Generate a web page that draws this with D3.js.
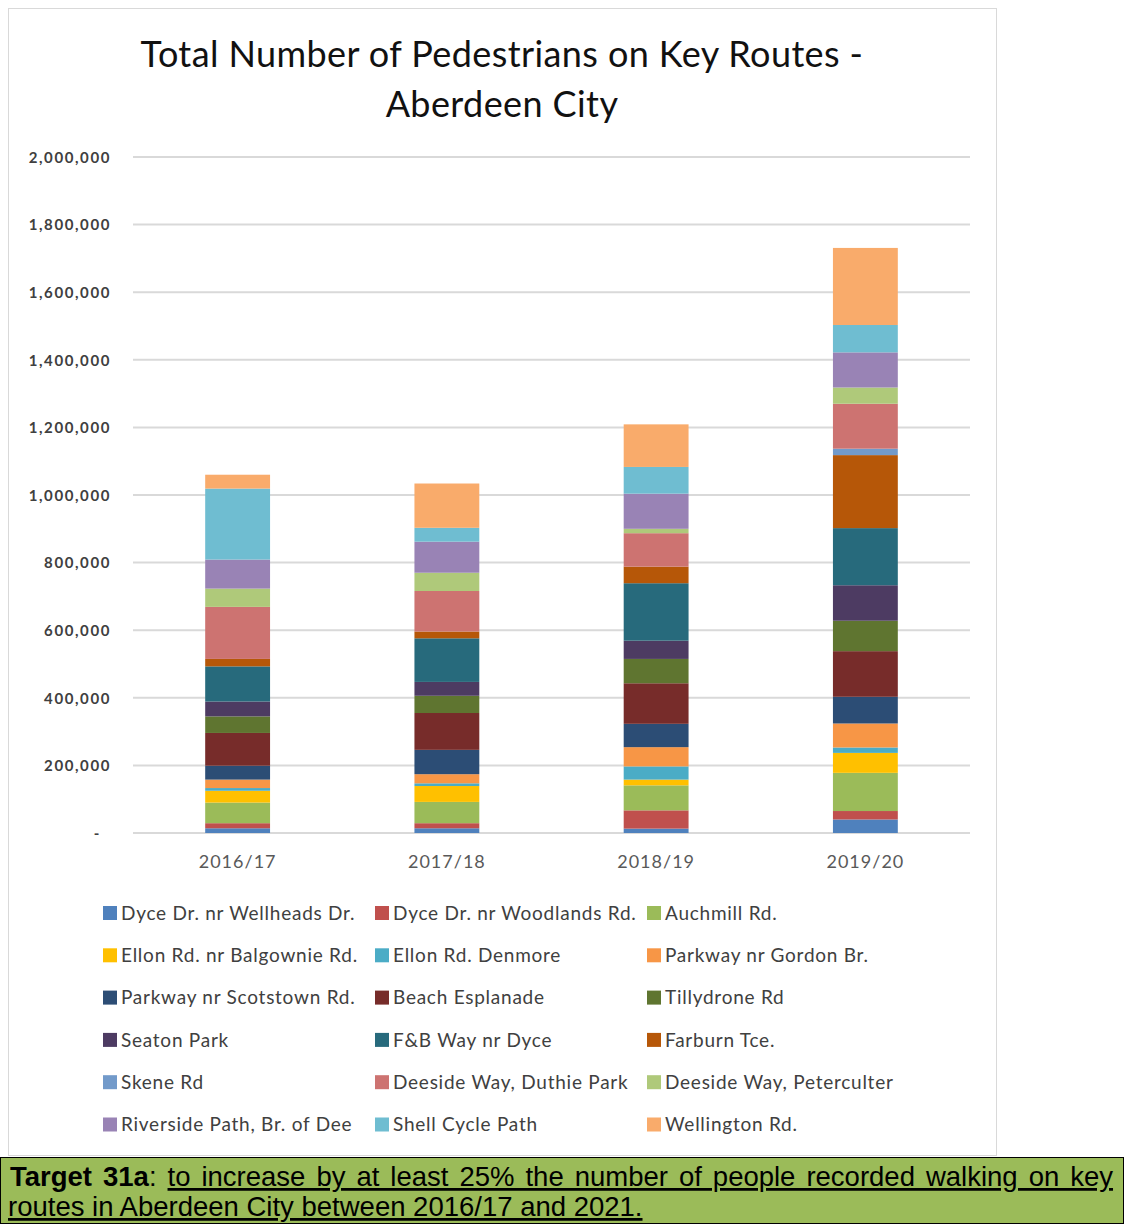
<!DOCTYPE html>
<html>
<head>
<meta charset="utf-8">
<script src="https://cdn.jsdelivr.net/npm/d3@7"></script>
<style>
  html, body { margin: 0; padding: 0; background: #ffffff; }
  svg { display: block; }
</style>
</head>
<body>
<svg id="chart" width="1124" height="1224"></svg>
<script>
// Survey years (x categories)
const years = ["2016/17", "2017/18", "2018/19", "2019/20"];

// Count sites, bottom of the stack first
const routes = [
  "Dyce Dr. nr Wellheads Dr.", "Dyce Dr. nr Woodlands Rd.", "Auchmill Rd.",
  "Ellon Rd. nr Balgownie Rd.", "Ellon Rd. Denmore", "Parkway nr Gordon Br.",
  "Parkway nr Scotstown Rd.", "Beach Esplanade", "Tillydrone Rd",
  "Seaton Park", "F&B Way nr Dyce", "Farburn Tce.",
  "Skene Rd", "Deeside Way, Duthie Park", "Deeside Way, Peterculter",
  "Riverside Path, Br. of Dee", "Shell Cycle Path", "Wellington Rd."
];

// Pedestrian counts per route, one value per year
const wellheads   = [14000, 14000, 13000, 40000];
const woodlands   = [15000, 15000, 54000, 25000];
const auchmill    = [61000, 63000, 74000, 113000];
const balgownie   = [35000, 47000, 17000, 59000];
const denmore     = [8000, 8000, 39000, 16000];
const gordonBr    = [25000, 27000, 57000, 71000];
const scotstown   = [41000, 72000, 69000, 79000];
const beach       = [97000, 109000, 120000, 135000];
const tillydrone  = [49000, 51000, 72000, 90000];
const seatonPark  = [44000, 41000, 54000, 105000];
const fbWay       = [104000, 129000, 170000, 169000];
const farburn     = [22000, 20000, 49000, 216000];
const skene       = [0, 0, 0, 19000];
const duthiePark  = [154000, 120000, 99000, 133000];
const peterculter = [54000, 54000, 13000, 48000];
const riverside   = [86000, 92000, 104000, 104000];
const shellCycle  = [210000, 41000, 79000, 81000];
const wellington  = [41000, 131000, 126000, 228000];

const seriesValues = [
  wellheads, woodlands, auchmill, balgownie, denmore, gordonBr,
  scotstown, beach, tillydrone, seatonPark, fbWay, farburn,
  skene, duthiePark, peterculter, riverside, shellCycle, wellington
];

const colours = [
  "#4F81BD", "#C0504D", "#9BBB59", "#FFC000", "#4BACC6", "#F79646",
  "#2C4D75", "#772C2A", "#5F7530", "#4D3B62", "#276A7C", "#B65708",
  "#729ACA", "#CD7371", "#AFC97A", "#9983B5", "#6FBDD1", "#F9AB6B"
];

const yTicks = [0, 200000, 400000, 600000, 800000, 1000000, 1200000, 1400000, 1600000, 1800000, 2000000];

const titleLines = ["Total Number of Pedestrians on Key Routes -", "Aberdeen City"];

// Build a row per year for d3.stack
const rows = years.map((yr, i) => {
  const r = { year: yr };
  routes.forEach((rt, k) => { r[rt] = seriesValues[k][i]; });
  return r;
});

const svg = d3.select("#chart");
const font = "Lato, 'Open Sans', sans-serif";

// Chart frame
svg.append("rect")
  .attr("x", 8.5).attr("y", 8.5)
  .attr("width", 988).attr("height", 1147)
  .attr("fill", "#ffffff").attr("stroke", "#d9d9d9").attr("stroke-width", 1);

// Title
svg.append("g").selectAll("text").data(titleLines).join("text")
  .attr("x", 502).attr("y", (d, i) => 67 + i * 50)
  .attr("text-anchor", "middle")
  .attr("font-family", font).attr("font-size", 36).attr("letter-spacing", 0.4)
  .attr("fill", "#111111")
  .text(d => d);

// Scales
const plot = { left: 133, right: 970, top: 157, bottom: 833 };
const x = d3.scaleBand().domain(years).range([plot.left, plot.right]).paddingInner(0.69).paddingOuter(0.345);
const y = d3.scaleLinear().domain([0, 2000000]).range([plot.bottom, plot.top]);

// Gridlines
svg.append("g").selectAll("line").data(yTicks).join("line")
  .attr("x1", plot.left).attr("x2", plot.right)
  .attr("y1", d => y(d)).attr("y2", d => y(d))
  .attr("stroke", "#d9d9d9").attr("stroke-width", 2);

// Y axis labels
const yAxis = d3.axisLeft(y).tickValues(yTicks).tickSize(0).tickPadding(0)
  .tickFormat(d => d === 0 ? "-" : d3.format(",")(d));
const gy = svg.append("g").attr("transform", `translate(111,0)`).call(yAxis);
gy.select(".domain").remove();
gy.selectAll("text")
  .attr("font-family", font).attr("font-size", 15).attr("font-weight", 700)
  .attr("letter-spacing", 1.6)
  .attr("fill", "#404040")
  .attr("dy", "0.35em")
  .attr("dx", d => d === 0 ? -10 : 0);

// X axis labels
const xAxis = d3.axisBottom(x).tickSize(0).tickPadding(0);
const gx = svg.append("g").attr("transform", `translate(0,${plot.bottom + 22})`).call(xAxis);
gx.select(".domain").remove();
gx.selectAll("text")
  .attr("font-family", font).attr("font-size", 18).attr("letter-spacing", 1)
  .attr("fill", "#595959");

// Stacked bars
const stacked = d3.stack().keys(routes)(rows);
svg.append("g").selectAll("g").data(stacked).join("g")
  .attr("fill", (d, i) => colours[i])
  .selectAll("rect").data(d => d).join("rect")
  .attr("x", d => x(d.data.year))
  .attr("width", x.bandwidth())
  .attr("y", d => y(d[1]))
  .attr("height", d => Math.max(0, y(d[0]) - y(d[1])));

// Legend: three columns, filled row by row
const legendCols = [103, 375, 647];
const legend = svg.append("g").selectAll("g").data(routes).join("g")
  .attr("transform", (d, i) => `translate(${legendCols[i % 3]},${913 + Math.floor(i / 3) * 42.3})`);
legend.append("rect")
  .attr("x", 0).attr("y", -7).attr("width", 14).attr("height", 14)
  .attr("fill", (d, i) => colours[i]);
legend.append("text")
  .attr("x", 18).attr("y", 0).attr("dy", "0.35em")
  .attr("font-family", font).attr("font-size", 19).attr("letter-spacing", 0.75)
  .attr("fill", "#404040")
  .text(d => d);

// Target statement below the chart
svg.append("rect")
  .attr("x", 0.5).attr("y", 1157.5).attr("width", 1123).attr("height", 66)
  .attr("fill", "#9BBB59").attr("stroke", "#000000").attr("stroke-width", 1);

const narrow = "'Liberation Sans Narrow', 'Arial Narrow', 'Liberation Sans', sans-serif";
const line1 = svg.append("text")
  .attr("x", 10).attr("y", 1186)
  .attr("font-family", narrow).attr("font-size", 27.5)
  .attr("fill", "#000000");
line1.append("tspan").attr("font-weight", 700).text("Target 31a");
line1.append("tspan").text(": ");
line1.append("tspan").attr("text-decoration", "underline")
  .text("to increase by at least 25% the number of people recorded walking on key");

// Justify the first line by widening the gaps between words
const natural = line1.node().getComputedTextLength();
const gaps = (line1.text().match(/ /g) || []).length;
const target = 1103;
if (gaps > 0 && natural < target) {
  line1.attr("word-spacing", (target - natural) / gaps);
}

svg.append("text")
  .attr("x", 8).attr("y", 1216)
  .attr("font-family", narrow).attr("font-size", 27.5)
  .attr("fill", "#000000")
  .attr("text-decoration", "underline")
  .text("routes in Aberdeen City between 2016/17 and 2021.");
</script>
</body>
</html>
